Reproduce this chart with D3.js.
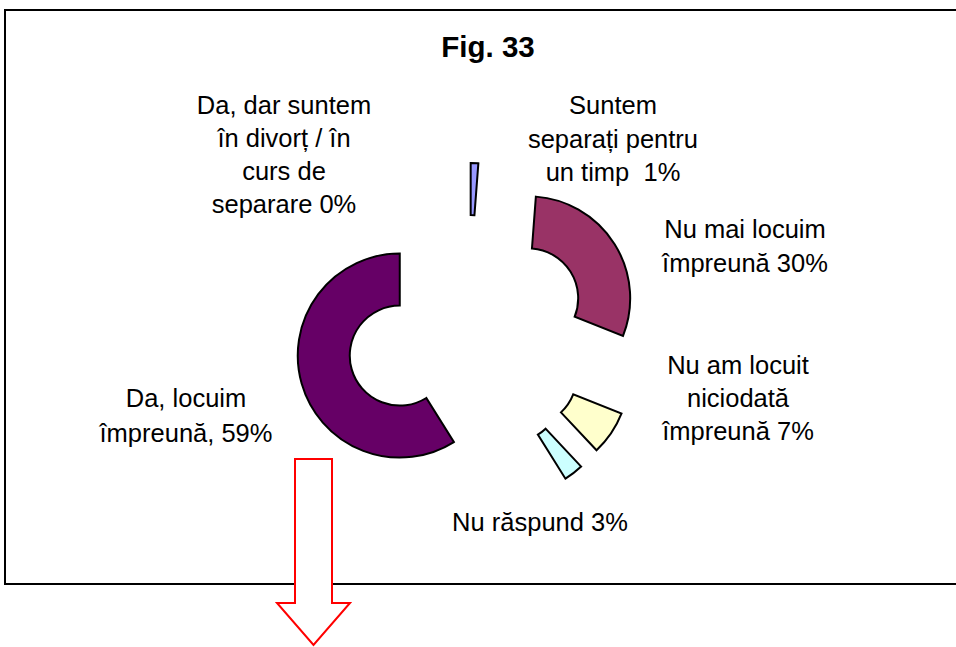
<!DOCTYPE html>
<html>
<head>
<meta charset="utf-8">
<script src="https://cdn.jsdelivr.net/npm/d3@7/dist/d3.min.js"></script>
<style>
  html, body { margin: 0; padding: 0; background: #fff; }
  svg { display: block; }
  text { font-family: "Liberation Sans", Arial, sans-serif; fill: #000; }
</style>
</head>
<body>
<svg id="chart" width="956" height="647"></svg>
<script>
// ---- data ----
const title = "Fig. 33";
const categories = [
  "Da, locuim împreună",
  "Da, dar suntem în divorț / în curs de separare",
  "Suntem separați pentru un timp",
  "Nu mai locuim împreună",
  "Nu am locuit niciodată împreună",
  "Nu răspund"
];
const values = [58.9, 0, 1.2, 29.8, 7.0, 3.1];
const labelLines = [
  ["Da, locuim", "împreună, 59%"],
  ["Da, dar suntem", "în divorț / în", "curs de", "separare 0%"],
  ["Suntem", "separați pentru", "un timp  1%"],
  ["Nu mai locuim", "împreună 30%"],
  ["Nu am locuit", "niciodată", "împreună 7%"],
  ["Nu răspund 3%"]
];
const colors = ["#660066", "#9999FF", "#9999FF", "#993366", "#FFFFCC", "#CCFFFF"];

// ---- layout (not data) ----
const labelPos = [
  {x: 186, y: 407, dy: 35},
  {x: 284, y: 114, dy: 33},
  {x: 613, y: 114, dy: 33.5},
  {x: 745, y: 238, dy: 34},
  {x: 738, y: 374, dy: 33},
  {x: 540, y: 531, dy: 33}
];
const cx = 468, cy = 336, outerR = 102, innerR = 50, explode = 71;

const svg = d3.select("#chart");

// frame
svg.append("rect")
  .attr("x", 5).attr("y", 10)
  .attr("width", 1000).attr("height", 574)
  .attr("fill", "none").attr("stroke", "#000").attr("stroke-width", 2);

// title
svg.append("text")
  .attr("x", 488).attr("y", 57)
  .attr("text-anchor", "middle")
  .attr("font-size", 29.5).attr("font-weight", "bold")
  .text(title);

// pie
const total = d3.sum(values);
const firstFrac = values[0] / total;
const pie = d3.pie().sort(null)
  .startAngle(-firstFrac * 2 * Math.PI)
  .endAngle((1 - firstFrac) * 2 * Math.PI);
const arcs = pie(values);
const arc = d3.arc().innerRadius(innerR).outerRadius(outerR);

const g = svg.append("g").attr("transform", `translate(${cx},${cy})`);
g.selectAll("path")
  .data(arcs.filter(d => d.value > 0))
  .join("path")
  .attr("d", arc)
  .attr("transform", d => {
    const mid = (d.startAngle + d.endAngle) / 2;
    return `translate(${Math.sin(mid) * explode},${-Math.cos(mid) * explode})`;
  })
  .attr("fill", d => colors[d.index])
  .attr("stroke", "#000")
  .attr("stroke-width", 2)
  .attr("stroke-linejoin", "miter");

// labels
labelLines.forEach((lines, i) => {
  const p = labelPos[i];
  const t = svg.append("text")
    .attr("text-anchor", "middle")
    .attr("font-size", 25.5);
  lines.forEach((ln, j) => {
    t.append("tspan")
      .attr("x", p.x)
      .attr("y", p.y + j * p.dy)
      .attr("xml:space", "preserve")
      .style("white-space", "pre")
      .text(ln);
  });
});

// red arrow
const arrow = [
  [295, 459], [332, 459], [332, 603], [350, 603],
  [313.5, 645], [277, 603], [295, 603]
];
svg.append("path")
  .attr("d", d3.line()(arrow) + "Z")
  .attr("fill", "#fff")
  .attr("stroke", "#FF0000")
  .attr("stroke-width", 2);
</script>
</body>
</html>
